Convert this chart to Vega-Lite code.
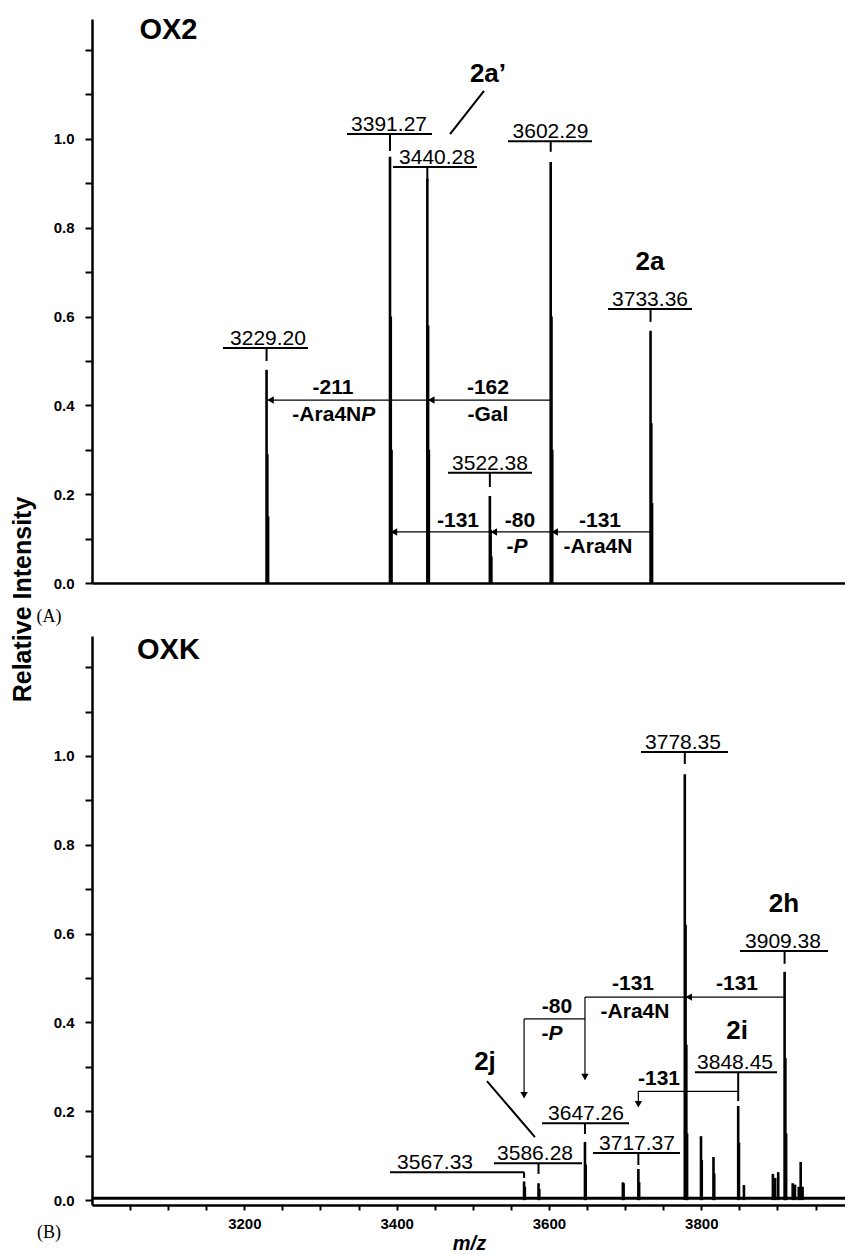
{
  "$schema": "https://vega.github.io/schema/vega-lite/v6.json",
  "background": "white",
  "padding": {"left": 9, "top": 16, "right": 0, "bottom": 0},
  "bounds": "flush",
  "spacing": 53,
  "config": {
    "view": {"stroke": null},
    "font": "Liberation Sans",
    "axis": {"grid": false, "domainColor": "black", "tickColor": "black", "labelColor": "black", "titleColor": "black", "labelFont": "Liberation Sans", "titleFont": "Liberation Sans", "labelFontWeight": "bold", "labelFontSize": 15, "domainWidth": 2.5, "tickWidth": 2}
  },
  "datasets": {
    "peaksA": [
      {"mz": 3229.20, "inten": 0.48}, {"mz": 3230.2, "inten": 0.29}, {"mz": 3231.2, "inten": 0.15},
      {"mz": 3391.27, "inten": 0.96}, {"mz": 3392.27, "inten": 0.6}, {"mz": 3393.27, "inten": 0.3},
      {"mz": 3440.28, "inten": 0.91}, {"mz": 3441.28, "inten": 0.58}, {"mz": 3442.28, "inten": 0.3},
      {"mz": 3522.38, "inten": 0.196}, {"mz": 3523.38, "inten": 0.12}, {"mz": 3524.38, "inten": 0.06},
      {"mz": 3602.29, "inten": 0.948}, {"mz": 3603.29, "inten": 0.6}, {"mz": 3604.29, "inten": 0.3},
      {"mz": 3733.36, "inten": 0.568}, {"mz": 3734.36, "inten": 0.36}, {"mz": 3735.36, "inten": 0.18}
    ],
    "peaksB": [
      {"mz": 3567.33, "inten": 0.042}, {"mz": 3568.3, "inten": 0.03},
      {"mz": 3586.28, "inten": 0.038}, {"mz": 3587.3, "inten": 0.025},
      {"mz": 3647.26, "inten": 0.131}, {"mz": 3648.26, "inten": 0.08},
      {"mz": 3697.0, "inten": 0.04}, {"mz": 3698.0, "inten": 0.038},
      {"mz": 3717.37, "inten": 0.07}, {"mz": 3718.4, "inten": 0.04},
      {"mz": 3778.35, "inten": 0.959}, {"mz": 3779.35, "inten": 0.62}, {"mz": 3780.35, "inten": 0.35}, {"mz": 3781.35, "inten": 0.15},
      {"mz": 3799.6, "inten": 0.144}, {"mz": 3800.6, "inten": 0.09},
      {"mz": 3816.0, "inten": 0.097}, {"mz": 3817.0, "inten": 0.06},
      {"mz": 3848.45, "inten": 0.212}, {"mz": 3849.45, "inten": 0.13},
      {"mz": 3856.0, "inten": 0.034},
      {"mz": 3894.0, "inten": 0.059}, {"mz": 3897.0, "inten": 0.05}, {"mz": 3901.0, "inten": 0.063},
      {"mz": 3909.38, "inten": 0.514}, {"mz": 3910.38, "inten": 0.32}, {"mz": 3911.38, "inten": 0.15},
      {"mz": 3920.0, "inten": 0.038}, {"mz": 3923.0, "inten": 0.035}, {"mz": 3928.0, "inten": 0.03}, {"mz": 3930.5, "inten": 0.086}, {"mz": 3933.0, "inten": 0.03}
    ],
    "labelsA": [
      {"mz": 3229.20, "label": "3229.20", "tx": 3231.1, "x1": 3172.0, "x2": 3283.6, "uy": 0.529, "tb": 0.500},
      {"mz": 3391.27, "label": "3391.27", "tx": 3390.0, "x1": 3334.8, "x2": 3446.4, "uy": 1.011, "tb": 0.973},
      {"mz": 3440.28, "label": "3440.28", "tx": 3453.0, "x1": 3395.2, "x2": 3505.5, "uy": 0.937, "tb": 0.905},
      {"mz": 3522.38, "label": "3522.38", "tx": 3522.6, "x1": 3467.4, "x2": 3577.7, "uy": 0.248, "tb": 0.216},
      {"mz": 3602.29, "label": "3602.29", "tx": 3602.0, "x1": 3546.2, "x2": 3656.5, "uy": 0.995, "tb": 0.971},
      {"mz": 3733.36, "label": "3733.36", "tx": 3732.7, "x1": 3677.5, "x2": 3787.8, "uy": 0.617, "tb": 0.588}
    ],
    "labelsB": [
      {"mz": 3567.33, "label": "3567.33", "tx": 3450.4, "x1": 3391.3, "x2": 3567.3, "uy": 0.063, "tb": 0.05},
      {"mz": 3586.28, "label": "3586.28", "tx": 3581.7, "x1": 3527.8, "x2": 3643.4, "uy": 0.083, "tb": 0.059},
      {"mz": 3647.26, "label": "3647.26", "tx": 3648.6, "x1": 3590.9, "x2": 3705.1, "uy": 0.173, "tb": 0.149},
      {"mz": 3717.37, "label": "3717.37", "tx": 3715.6, "x1": 3657.8, "x2": 3772.0, "uy": 0.106, "tb": 0.079},
      {"mz": 3778.35, "label": "3778.35", "tx": 3776.0, "x1": 3720.8, "x2": 3835.1, "uy": 1.009, "tb": 0.982},
      {"mz": 3848.45, "label": "3848.45", "tx": 3844.3, "x1": 3791.7, "x2": 3899.4, "uy": 0.288, "tb": 0.223},
      {"mz": 3909.38, "label": "3909.38", "tx": 3907.3, "x1": 3850.8, "x2": 3966.4, "uy": 0.561, "tb": 0.532}
    ],
    "segsA": [
      {"x": 3229.2, "x2": 3602.29, "y": 0.412, "y2": 0.412},
      {"x": 3391.27, "x2": 3733.36, "y": 0.115, "y2": 0.115}
    ],
    "headsLA": [
      {"x": 3229.2, "y": 0.412}, {"x": 3440.28, "y": 0.412},
      {"x": 3391.27, "y": 0.115}, {"x": 3522.38, "y": 0.115}, {"x": 3602.29, "y": 0.115}
    ],
    "segsB": [
      {"x": 3647.26, "x2": 3909.38, "y": 0.457, "y2": 0.457},
      {"x": 3647.26, "x2": 3647.26, "y": 0.457, "y2": 0.272},
      {"x": 3567.33, "x2": 3647.26, "y": 0.408, "y2": 0.408},
      {"x": 3567.33, "x2": 3567.33, "y": 0.408, "y2": 0.232},
      {"x": 3717.37, "x2": 3848.45, "y": 0.245, "y2": 0.245},
      {"x": 3717.37, "x2": 3717.37, "y": 0.245, "y2": 0.212}
    ],
    "headsLB": [{"x": 3778.35, "y": 0.457}],
    "headsDB": [{"x": 3647.26, "y": 0.268}, {"x": 3567.33, "y": 0.227}, {"x": 3717.37, "y": 0.207}],
    "leadA": [{"x": 3470.1, "x2": 3514.7, "y": 1.011, "y2": 1.108}],
    "leadB": [{"x": 3518.6, "x2": 3581.6, "y": 0.268, "y2": 0.142}],
    "notesA": [
      {"x": 3316.4, "y": 0.439, "t": "-211"}, {"x": 3519.9, "y": 0.439, "t": "-162"},
      {"x": 3519.9, "y": 0.378, "t": "-Gal"}, {"x": 3480.6, "y": 0.140, "t": "-131"},
      {"x": 3562.0, "y": 0.140, "t": "-80"}, {"x": 3667.0, "y": 0.140, "t": "-131"},
      {"x": 3664.4, "y": 0.081, "t": "-Ara4N"}
    ],
    "notesRA": [{"x": 3353.5, "y": 0.378, "t": "-Ara4N"}, {"x": 3553.4, "y": 0.081, "t": "-"}],
    "italA": [{"x": 3353.5, "y": 0.378, "t": "P"}, {"x": 3553.4, "y": 0.081, "t": "P"}],
    "notesB": [
      {"x": 3846.9, "y": 0.486, "t": "-131"}, {"x": 3710.3, "y": 0.486, "t": "-131"},
      {"x": 3713.0, "y": 0.423, "t": "-Ara4N"}, {"x": 3610.5, "y": 0.435, "t": "-80"},
      {"x": 3744.5, "y": 0.273, "t": "-131"}
    ],
    "notesRB": [{"x": 3599.4, "y": 0.374, "t": "-"}],
    "italB": [{"x": 3599.4, "y": 0.374, "t": "P"}],
    "idsA": [{"x": 3519.9, "y": 1.146, "t": "2a’"}, {"x": 3732.7, "y": 0.723, "t": "2a"}],
    "idsB": [{"x": 3908.6, "y": 0.667, "t": "2h"}, {"x": 3846.9, "y": 0.381, "t": "2i"}, {"x": 3516.0, "y": 0.311, "t": "2j"}],
    "nameA": [{"x": 3100.4, "y": 1.245, "t": "OX2"}],
    "nameB": [{"x": 3100.4, "y": 1.239, "t": "OXK"}],
    "tagA": [{"x": 2943.5, "y": -0.077, "t": "(A)"}],
    "tagB": [{"x": 2943.5, "y": -0.074, "t": "(B)"}]
  },
  "vconcat": [
    {
      "width": 754,
      "height": 564,
      "layer": [
        {
          "data": {"name": "peaksA"},
          "mark": {"type": "rule", "strokeWidth": 2.6, "color": "black"},
          "encoding": {
            "x": {"field": "mz", "type": "quantitative", "scale": {"domain": [3000, 3990], "nice": false, "zero": false},
                  "axis": {"title": null, "labels": false, "ticks": false}},
            "y": {"field": "inten", "type": "quantitative", "scale": {"domain": [0, 1.27], "nice": false, "zero": false},
                  "axis": {"title": null, "tickSize": 7, "labelPadding": 11,
                           "values": [0,0.05,0.1,0.15,0.2,0.25,0.3,0.35,0.4,0.45,0.5,0.55,0.6,0.65,0.7,0.75,0.8,0.85,0.9,0.95,1,1.05,1.1,1.15,1.2,1.25],
                           "labelExpr": "datum.value <= 1.001 && abs(datum.value*5 - round(datum.value*5)) < 0.001 ? format(datum.value, '.1f') : ''"}},
            "y2": {"datum": 0}
          }
        },
        {
          "data": {"name": "labelsA"},
          "mark": {"type": "rule", "strokeWidth": 2, "color": "black"},
          "encoding": {"x": {"field": "x1", "type": "quantitative"}, "x2": {"field": "x2"}, "y": {"field": "uy", "type": "quantitative"}}
        },
        {
          "data": {"name": "labelsA"},
          "mark": {"type": "rule", "strokeWidth": 2, "color": "black"},
          "encoding": {"x": {"field": "mz", "type": "quantitative"}, "y": {"field": "uy", "type": "quantitative"}, "y2": {"field": "tb"}}
        },
        {
          "data": {"name": "labelsA"},
          "mark": {"type": "text", "font": "Liberation Sans", "fontSize": 21, "align": "center", "baseline": "alphabetic", "dy": -3, "color": "black"},
          "encoding": {"x": {"field": "tx", "type": "quantitative"}, "y": {"field": "uy", "type": "quantitative"}, "text": {"field": "label"}}
        },
        {
          "data": {"name": "segsA"},
          "mark": {"type": "rule", "strokeWidth": 1.2, "color": "black"},
          "encoding": {"x": {"field": "x", "type": "quantitative"}, "x2": {"field": "x2"}, "y": {"field": "y", "type": "quantitative"}, "y2": {"field": "y2"}}
        },
        {
          "data": {"name": "headsLA"},
          "mark": {"type": "point", "shape": "triangle-left", "filled": true, "size": 55, "color": "black", "opacity": 1, "xOffset": 4},
          "encoding": {"x": {"field": "x", "type": "quantitative"}, "y": {"field": "y", "type": "quantitative"}}
        },
        {
          "data": {"name": "leadA"},
          "mark": {"type": "rule", "strokeWidth": 2, "color": "black"},
          "encoding": {"x": {"field": "x", "type": "quantitative"}, "x2": {"field": "x2"}, "y": {"field": "y", "type": "quantitative"}, "y2": {"field": "y2"}}
        },
        {
          "data": {"name": "notesA"},
          "mark": {"type": "text", "font": "Liberation Sans", "fontWeight": "bold", "fontSize": 21, "align": "center", "baseline": "middle", "color": "black"},
          "encoding": {"x": {"field": "x", "type": "quantitative"}, "y": {"field": "y", "type": "quantitative"}, "text": {"field": "t"}}
        },
        {
          "data": {"name": "notesRA"},
          "mark": {"type": "text", "font": "Liberation Sans", "fontWeight": "bold", "fontSize": 21, "align": "right", "baseline": "middle", "color": "black"},
          "encoding": {"x": {"field": "x", "type": "quantitative"}, "y": {"field": "y", "type": "quantitative"}, "text": {"field": "t"}}
        },
        {
          "data": {"name": "italA"},
          "mark": {"type": "text", "font": "Liberation Sans", "fontWeight": "bold", "fontStyle": "italic", "fontSize": 21, "align": "left", "baseline": "middle", "color": "black"},
          "encoding": {"x": {"field": "x", "type": "quantitative"}, "y": {"field": "y", "type": "quantitative"}, "text": {"field": "t"}}
        },
        {
          "data": {"name": "idsA"},
          "mark": {"type": "text", "font": "Liberation Sans", "fontWeight": "bold", "fontSize": 26, "align": "center", "baseline": "middle", "color": "black"},
          "encoding": {"x": {"field": "x", "type": "quantitative"}, "y": {"field": "y", "type": "quantitative"}, "text": {"field": "t"}}
        },
        {
          "data": {"name": "nameA"},
          "mark": {"type": "text", "font": "Liberation Sans", "fontWeight": "bold", "fontSize": 29, "align": "center", "baseline": "middle", "color": "black"},
          "encoding": {"x": {"field": "x", "type": "quantitative"}, "y": {"field": "y", "type": "quantitative"}, "text": {"field": "t"}}
        },
        {
          "data": {"name": "tagA"},
          "mark": {"type": "text", "font": "Liberation Serif", "fontSize": 18, "align": "center", "baseline": "middle", "color": "black"},
          "encoding": {"x": {"field": "x", "type": "quantitative"}, "y": {"field": "y", "type": "quantitative"}, "text": {"field": "t"}}
        }
      ]
    },
    {
      "width": 754,
      "height": 569,
      "layer": [
        {
          "data": {"name": "peaksB"},
          "mark": {"type": "rule", "strokeWidth": 2.6, "color": "black"},
          "encoding": {
            "x": {"field": "mz", "type": "quantitative", "scale": {"domain": [3000, 3990], "nice": false, "zero": false},
                  "axis": {"title": "m/z", "titleFontStyle": "italic", "titleFontWeight": "bold", "titleFontSize": 20, "titlePadding": 2,
                           "tickSize": 5, "labelPadding": 6,
                           "values": [3050,3100,3150,3200,3250,3300,3350,3400,3450,3500,3550,3600,3650,3700,3750,3800,3850,3900,3950],
                           "labelExpr": "datum.value % 200 == 0 ? format(datum.value, 'd') : ''"}},
            "y": {"field": "inten", "type": "quantitative", "scale": {"domain": [-0.011, 1.27], "nice": false, "zero": false},
                  "axis": {"title": "Relative Intensity", "titleFontSize": 25, "titleFontWeight": "bold", "titleAngle": 270,
                           "titleX": -70, "titleY": -37, "titleAlign": "center", "titleBaseline": "middle",
                           "tickSize": 7, "labelPadding": 11,
                           "values": [0,0.05,0.1,0.15,0.2,0.25,0.3,0.35,0.4,0.45,0.5,0.55,0.6,0.65,0.7,0.75,0.8,0.85,0.9,0.95,1,1.05,1.1,1.15,1.2,1.25],
                           "labelExpr": "datum.value <= 1.001 && abs(datum.value*5 - round(datum.value*5)) < 0.001 ? format(datum.value, '.1f') : ''"}},
            "y2": {"datum": 0}
          }
        },
        {
          "data": {"values": [{}]},
          "mark": {"type": "rule", "strokeWidth": 3, "color": "black"},
          "encoding": {"y": {"datum": 0.004}}
        },
        {
          "data": {"name": "labelsB"},
          "mark": {"type": "rule", "strokeWidth": 2, "color": "black"},
          "encoding": {"x": {"field": "x1", "type": "quantitative"}, "x2": {"field": "x2"}, "y": {"field": "uy", "type": "quantitative"}}
        },
        {
          "data": {"name": "labelsB"},
          "mark": {"type": "rule", "strokeWidth": 2, "color": "black"},
          "encoding": {"x": {"field": "mz", "type": "quantitative"}, "y": {"field": "uy", "type": "quantitative"}, "y2": {"field": "tb"}}
        },
        {
          "data": {"name": "labelsB"},
          "mark": {"type": "text", "font": "Liberation Sans", "fontSize": 21, "align": "center", "baseline": "alphabetic", "dy": -3, "color": "black"},
          "encoding": {"x": {"field": "tx", "type": "quantitative"}, "y": {"field": "uy", "type": "quantitative"}, "text": {"field": "label"}}
        },
        {
          "data": {"name": "segsB"},
          "mark": {"type": "rule", "strokeWidth": 1.2, "color": "black"},
          "encoding": {"x": {"field": "x", "type": "quantitative"}, "x2": {"field": "x2"}, "y": {"field": "y", "type": "quantitative"}, "y2": {"field": "y2"}}
        },
        {
          "data": {"name": "headsLB"},
          "mark": {"type": "point", "shape": "triangle-left", "filled": true, "size": 55, "color": "black", "opacity": 1, "xOffset": 4},
          "encoding": {"x": {"field": "x", "type": "quantitative"}, "y": {"field": "y", "type": "quantitative"}}
        },
        {
          "data": {"name": "headsDB"},
          "mark": {"type": "point", "shape": "triangle-down", "filled": true, "size": 55, "color": "black", "opacity": 1, "yOffset": -4},
          "encoding": {"x": {"field": "x", "type": "quantitative"}, "y": {"field": "y", "type": "quantitative"}}
        },
        {
          "data": {"name": "leadB"},
          "mark": {"type": "rule", "strokeWidth": 2, "color": "black"},
          "encoding": {"x": {"field": "x", "type": "quantitative"}, "x2": {"field": "x2"}, "y": {"field": "y", "type": "quantitative"}, "y2": {"field": "y2"}}
        },
        {
          "data": {"name": "notesB"},
          "mark": {"type": "text", "font": "Liberation Sans", "fontWeight": "bold", "fontSize": 21, "align": "center", "baseline": "middle", "color": "black"},
          "encoding": {"x": {"field": "x", "type": "quantitative"}, "y": {"field": "y", "type": "quantitative"}, "text": {"field": "t"}}
        },
        {
          "data": {"name": "notesRB"},
          "mark": {"type": "text", "font": "Liberation Sans", "fontWeight": "bold", "fontSize": 21, "align": "right", "baseline": "middle", "color": "black"},
          "encoding": {"x": {"field": "x", "type": "quantitative"}, "y": {"field": "y", "type": "quantitative"}, "text": {"field": "t"}}
        },
        {
          "data": {"name": "italB"},
          "mark": {"type": "text", "font": "Liberation Sans", "fontWeight": "bold", "fontStyle": "italic", "fontSize": 21, "align": "left", "baseline": "middle", "color": "black"},
          "encoding": {"x": {"field": "x", "type": "quantitative"}, "y": {"field": "y", "type": "quantitative"}, "text": {"field": "t"}}
        },
        {
          "data": {"name": "idsB"},
          "mark": {"type": "text", "font": "Liberation Sans", "fontWeight": "bold", "fontSize": 26, "align": "center", "baseline": "middle", "color": "black"},
          "encoding": {"x": {"field": "x", "type": "quantitative"}, "y": {"field": "y", "type": "quantitative"}, "text": {"field": "t"}}
        },
        {
          "data": {"name": "nameB"},
          "mark": {"type": "text", "font": "Liberation Sans", "fontWeight": "bold", "fontSize": 29, "align": "center", "baseline": "middle", "color": "black"},
          "encoding": {"x": {"field": "x", "type": "quantitative"}, "y": {"field": "y", "type": "quantitative"}, "text": {"field": "t"}}
        },
        {
          "data": {"name": "tagB"},
          "mark": {"type": "text", "font": "Liberation Serif", "fontSize": 18, "align": "center", "baseline": "middle", "color": "black"},
          "encoding": {"x": {"field": "x", "type": "quantitative"}, "y": {"field": "y", "type": "quantitative"}, "text": {"field": "t"}}
        }
      ]
    }
  ]
}
